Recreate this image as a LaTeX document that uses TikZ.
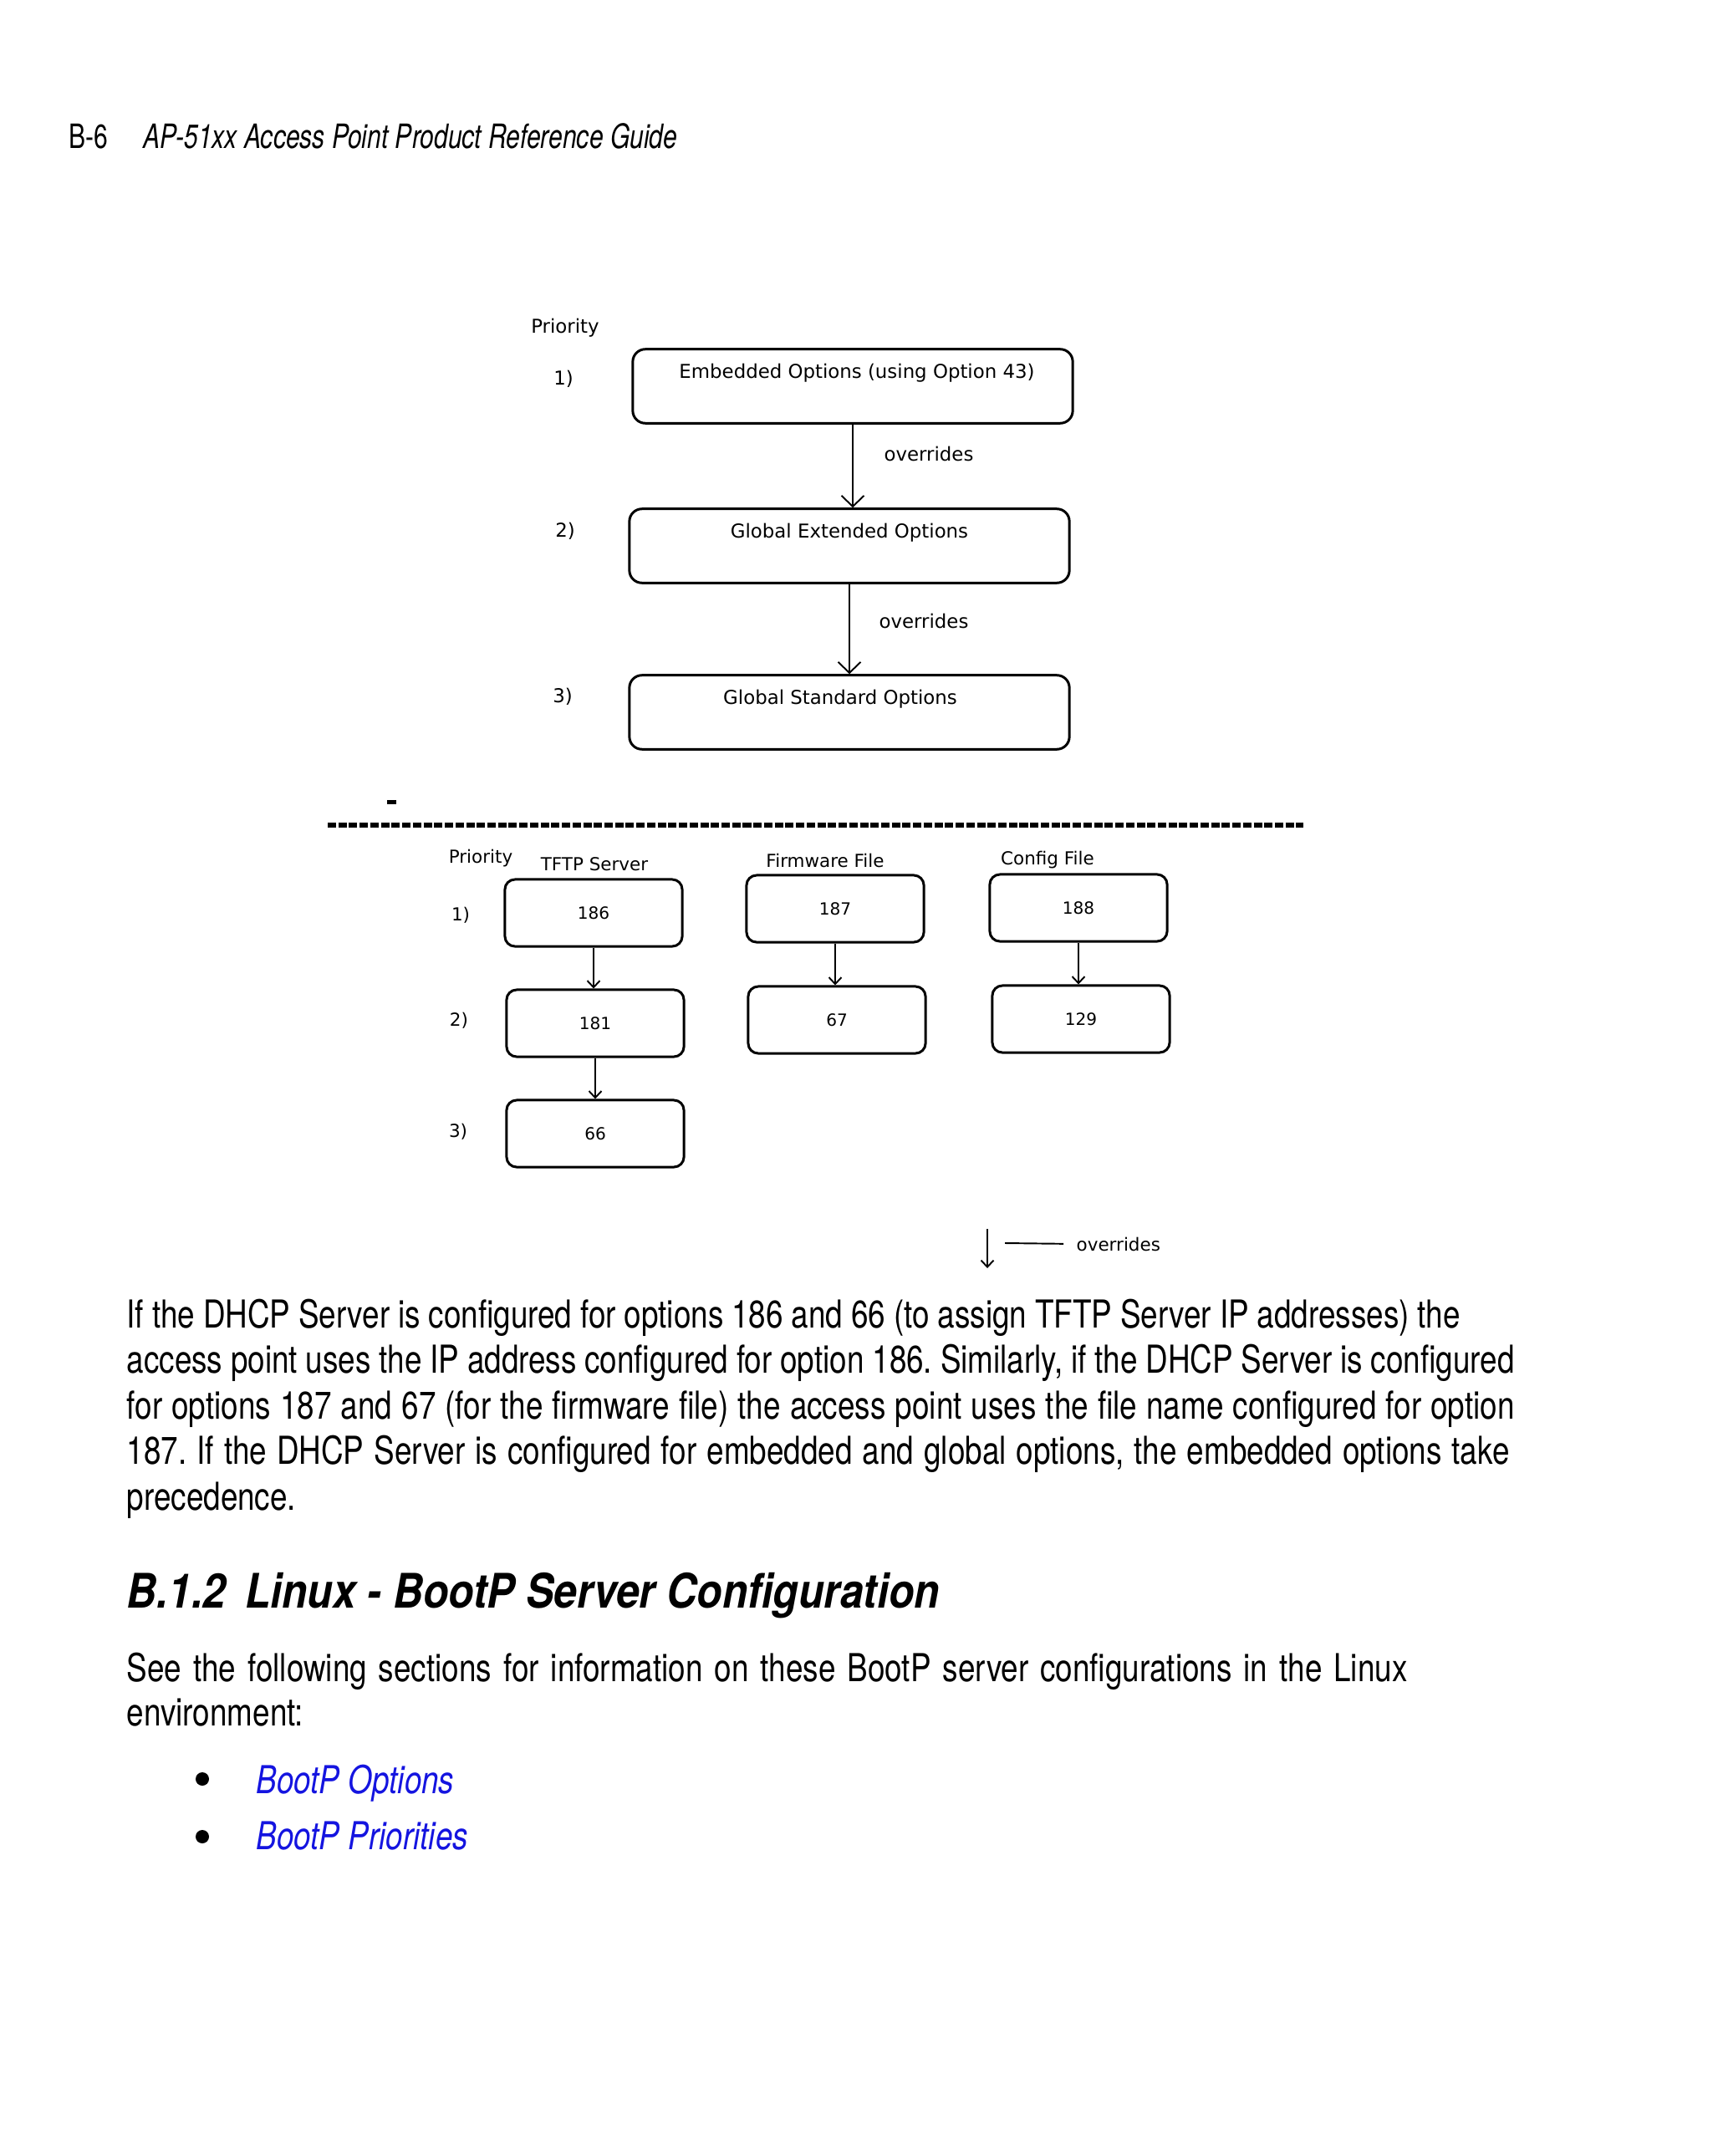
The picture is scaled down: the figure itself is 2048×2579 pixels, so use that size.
\documentclass[tikz,border=0pt]{standalone}
\usepackage{fontspec}
\setmainfont{TeX Gyre Heros}[FakeStretch=0.80]
\newfontfamily\headfont{TeX Gyre Heros}[FakeStretch=0.75]
\newfontfamily\secfont{TeX Gyre Heros}[FakeStretch=0.873]
\newfontfamily\diafont{DejaVu Sans}
\usetikzlibrary{arrows.meta,positioning}
\definecolor{linkblue}{RGB}{20,20,224}
\frenchspacing

\begin{document}
\begin{tikzpicture}[x=0.01cm,y=-0.01cm]
    % --- styles ---
    \tikzset{
      optbox/.style={draw,line width=0.85pt,rounded corners=0.15cm,minimum width=5.26cm,
        minimum height=0.885cm,inner sep=0pt,font=\diafont\fontsize{6.5}{7.8}\selectfont,
        text height=5pt,text depth=10.2pt},
      numbox/.style={draw,line width=0.85pt,rounded corners=0.12cm,minimum width=2.12cm,
        minimum height=0.8cm,inner sep=0pt,font=\diafont\fontsize{5.7}{7}\selectfont},
      toplbl/.style={inner sep=0pt,font=\diafont\fontsize{6.5}{7.8}\selectfont},
      botlbl/.style={inner sep=0pt,font=\diafont\fontsize{6.1}{7.3}\selectfont},
      bigarr/.style={line width=0.55pt,-{Straight Barb[length=0.13cm,width=0.27cm]}},
      smallarr/.style={line width=0.55pt,-{Straight Barb[length=0.08cm,width=0.15cm]}},
      bodytxt/.style={anchor=base west,inner sep=0pt,font=\fontsize{13.1}{15.5}\selectfont},
      linktxt/.style={bodytxt,text=linkblue,font=\fontsize{13.1}{15.5}\selectfont\itshape},
      bulletdot/.style={circle,fill,minimum size=0.16cm,inner sep=0pt},
    }

    % page
    \fill[white] (0,0) rectangle (2048,2579);
    \useasboundingbox (0,0) rectangle (2048,2579);

    % running head
    \node[anchor=base west,inner sep=0pt,font=\headfont\fontsize{11.4}{13}\selectfont] (pgno) at (82,178) {B-6};
    \node[anchor=base west,inner sep=0pt,font=\headfont\fontsize{11.4}{13}\selectfont\itshape] (runhead)
      at (171,178) {AP-51xx Access Point Product Reference Guide};

    % embedded / global options
    \node[toplbl] (prio) at (676,392) {Priority};
    \node[toplbl] (r1) at (674,453) {1)};
    \node[toplbl] (r2) at (676,635) {2)};
    \node[toplbl] (r3) at (673,833) {3)};
    \node[optbox] (emb) at (1020,462) {\hspace*{0.1cm}Embedded Options (using Option 43)};
    \node[optbox] (gext) at (1016,653) {Global Extended Options};
    \node[optbox] (gstd) at (1016,852) {\hspace*{-0.22cm}Global Standard Options};
    \draw[bigarr] (emb.south) -- (emb.south |- gext.north);
    \draw[bigarr] (gext.south) -- (gext.south |- gstd.north);
    \node[toplbl] (ov1) at (1111,543) {overrides};
    \node[toplbl] (ov2) at (1105,743) {overrides};

    % separator
    \fill (463,957) rectangle (474,962);
    \draw[line width=1.56pt,dash pattern=on 2.85pt off 0.77pt] (392,987) -- (1559,987);

    % per-option priorities
    \node[botlbl] (prio2) at (575,1027) {Priority};
    \node[botlbl] (tftp) at (711,1034) {TFTP Server};
    \node[botlbl] (fw) at (987,1029) {Firmware File};
    \node[botlbl] (cfg) at (1253,1029) {Config File};
    \node[botlbl] (s1) at (551,1095) {1)};
    \node[botlbl] (s2) at (549,1221) {2)};
    \node[botlbl] (s3) at (548,1354) {3)};

    \node[numbox] (o186) at (710,1092) {186};
    \node[numbox] (o187) at (999,1087) {187};
    \node[numbox] (o188) at (1290,1086) {188};
    \node[numbox] (o181) at (712,1224) {181};
    \node[numbox] (o67)  at (1001,1220) {67};
    \node[numbox] (o129) at (1293,1219) {129};
    \node[numbox] (o66)  at (712,1356) {66};
    \foreach \a/\b in {o186/o181,o181/o66,o187/o67,o188/o129}
      \draw[smallarr] (\a.south) -- (\a.south |- \b.north);

    % legend
    \coordinate (lgtop) at (1181,1470);
    \coordinate (lgbot) at (1181,1517);
    \draw[smallarr] (lgtop) -- (lgbot);
    \node[botlbl,anchor=west] (lgtxt) at (1287,1488) {overrides};
    \coordinate (lgl) at (1202,1487);
    \draw[line width=0.55pt,shorten >=0.15cm] (lgl) -- (lgtxt.west);

    % body text
    \foreach \w/\ln [count=\i] in {%
      15.94/{If the DHCP Server is configured for options 186 and 66 (to assign TFTP Server IP addresses) the},
      16.59/{access point uses the IP address configured for option 186. Similarly, if the DHCP Server is configured},
      16.59/{for options 187 and 67 (for the firmware file) the access point uses the file name configured for option},
      16.53/{187. If the DHCP Server is configured for embedded and global options, the embedded options take}}
      \node[bodytxt] (par\i) at (151,{1588+54.5*(\i-1)}) {\makebox[\w cm][s]{\ln}};
    \node[bodytxt] (par5) at (151,1806) {precedence.};

    \node[anchor=base west,inner sep=0pt,font=\secfont\fontsize{16.2}{19}\selectfont\bfseries\itshape] (sechead)
      at (151,1923) {B.1.2\hspace{0.4em}Linux - BootP Server Configuration};

    \node[bodytxt] (see1) at (151,2011)
      {\makebox[15.31cm][s]{See the following sections for information on these BootP server configurations in the Linux}};
    \node[bodytxt] (see2) at (151,2064) {environment:};

    % links
    \node[bulletdot] (bul1) at (242,2128) {};
    \node[bulletdot] (bul2) at (242,2197) {};
    \node[linktxt] (lnk1) at (306,2145) {BootP Options};
    \node[linktxt] (lnk2) at (306,2212) {BootP Priorities};
\end{tikzpicture}
\end{document}
